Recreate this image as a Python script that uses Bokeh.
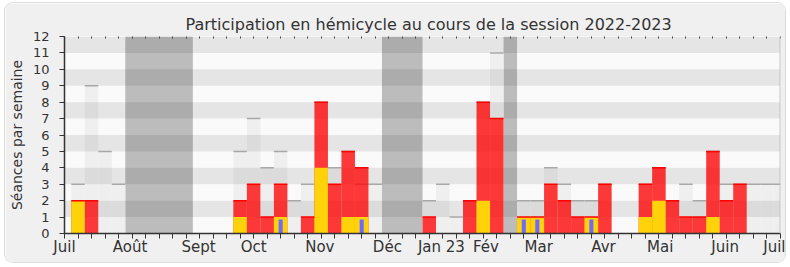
from bokeh.plotting import figure
from bokeh.models import Range1d, FixedTicker, LinearAxis, Span
from bokeh.embed import file_html
from bokeh.resources import INLINE

# ---- data (week index from start of session) ----
total_weeks = [1, 2, 3, 4, 13, 14, 15, 16, 17, 18, 19, 20, 21, 22, 23, 27, 28, 29, 30, 31, 32,
               34, 35, 36, 37, 38, 39, 40, 43, 44, 45, 46, 47, 48, 49, 50, 51, 52, 53]
total_vals = [3, 9, 5, 3, 5, 7, 4, 5, 2, 3, 8, 4, 5, 3, 3, 2, 3, 1, 2, 8, 11,
              2, 2, 4, 3, 2, 2, 3, 3, 4, 2, 3, 2, 5, 3, 3, 3, 3, 3]

presence_weeks = [1, 2, 13, 14, 15, 16, 18, 19, 20, 21, 22, 27, 30, 31, 32, 34, 35, 36, 37, 38,
                  39, 40, 43, 44, 45, 46, 47, 48, 49, 50]
presence_vals = [2, 2, 2, 3, 1, 3, 1, 8, 3, 5, 4, 1, 2, 8, 7, 1, 1, 3, 2, 1,
                 1, 3, 3, 4, 2, 1, 1, 5, 2, 3]

interv_weeks = [1, 13, 16, 19, 21, 22, 31, 34, 35, 39, 43, 44, 48]
interv_vals = [2, 1, 1, 4, 1, 1, 2, 1, 1, 1, 1, 2, 1]

question_weeks = [16, 22, 34, 35, 39]
question_vals = [0.85, 0.85, 0.85, 0.85, 0.85]

vacation_start = [4.5, 23.5, 32.5]
vacation_end = [9.5, 26.5, 33.5]

month_pos = [0, 4.85, 9.92, 14.0, 18.9, 23.9, 27.9, 31.2, 35.1, 39.9, 44.1, 48.9, 53]
month_labels = ["Juil", "Août", "Sept", "Oct", "Nov", "Déc", "Jan 23", "Fév", "Mar", "Avr",
                "Mai", "Juin", "Juil"]
n_weeks = 53
y_max = 12

FONT = "DejaVu Sans"
TXT = "#333333"

p = figure(width=780, height=259, x_range=Range1d(0, n_weeks), y_range=Range1d(0, y_max),
           output_backend="svg", toolbar_location=None,
           min_border_left=57, min_border_right=5, min_border_top=33, min_border_bottom=29,
           border_fill_color="#f0f0f0", background_fill_color="white",
           outline_line_color=None, x_axis_location=None, y_axis_location=None)
p.styles = {"margin-left": "5px", "margin-top": "3px", "border-radius": "8px",
            "box-shadow": "0 0 0 1px #dcdcdc", "overflow": "hidden"}
p.grid.visible = False

p.title.text = "Participation en hémicycle au cours de la session 2022-2023"
p.title.align = "left"
p.title.offset = 121
p.title.standoff = 6
p.title.text_line_height = 0.8
p.title.text_font = FONT
p.title.text_font_size = "16px"
p.title.text_font_style = "normal"
p.title.text_color = TXT

# vacation bands (under stripes)
p.quad(left=vacation_start, right=vacation_end, bottom=0, top=y_max,
       fill_color="#c0c0c0", line_color=None)

# total sessions bars (light)
p.vbar(x=total_weeks, top=total_vals, width=1, bottom=0,
       fill_color="#f4f4f4", line_color=None)

# horizontal stripes
rows = list(range(y_max))
p.hbar(y=[r + 0.5 for r in rows], left=0, right=n_weeks, height=1,
       fill_color="black", fill_alpha=[0.1 if r % 2 == 1 else 0.02 for r in rows],
       line_color=None)

# total top lines
p.segment(x0=[w - 0.5 for w in total_weeks], x1=[w + 0.5 for w in total_weeks],
          y0=total_vals, y1=total_vals, line_color="#a8a8a8", line_width=1.5)

# presence bars
p.vbar(x=presence_weeks, top=presence_vals, width=1, bottom=0,
       fill_color="#ff0000", fill_alpha=0.77, line_color=None)
# interventions
p.vbar(x=interv_weeks, top=interv_vals, width=1, bottom=0,
       fill_color="#ffd20a", line_color=None)
# presence top lines
p.segment(x0=[w - 0.5 for w in presence_weeks], x1=[w + 0.5 for w in presence_weeks],
          y0=presence_vals, y1=presence_vals, line_color="#ff0000", line_width=1.5)
# questions
p.vbar(x=question_weeks, top=question_vals, width=0.3, bottom=0,
       fill_color="#6b6bff", line_color=None)

# right border line
p.add_layout(Span(location=n_weeks, dimension="height", line_color="#c4c4c4", line_width=2))

# axes
xaxis = LinearAxis(ticker=FixedTicker(ticks=month_pos, minor_ticks=list(range(0, n_weeks + 1))))
xaxis.major_label_overrides = {pos: lab for pos, lab in zip(month_pos, month_labels)}
xaxis.major_tick_out = 0
xaxis.major_tick_in = 0
xaxis.minor_tick_out = 5
xaxis.minor_tick_in = 0
xaxis.minor_tick_line_color = TXT
xaxis.axis_line_color = TXT
xaxis.axis_line_width = 1.5
xaxis.major_label_text_font = FONT
xaxis.major_label_text_font_size = "15px"
xaxis.major_label_text_color = TXT
xaxis.major_label_standoff = -1
p.add_layout(xaxis, "below")

topaxis = LinearAxis(ticker=FixedTicker(ticks=[], minor_ticks=list(range(0, n_weeks + 1))))
topaxis.axis_line_color = None
topaxis.major_tick_out = 0
topaxis.major_tick_in = 0
topaxis.minor_tick_in = 2
topaxis.minor_tick_out = 0
topaxis.minor_tick_line_color = "#444444"
topaxis.minor_tick_line_width = 1
topaxis.major_label_text_font_size = "0px"
topaxis.major_label_standoff = 0
p.add_layout(topaxis, "above")

yaxis = LinearAxis(ticker=FixedTicker(ticks=list(range(0, y_max + 1)), minor_ticks=[]))
yaxis.axis_label = "Séances par semaine"
yaxis.axis_label_text_font = FONT
yaxis.axis_label_text_font_size = "14px"
yaxis.axis_label_text_font_style = "normal"
yaxis.axis_label_text_color = TXT
yaxis.axis_label_standoff = 5
yaxis.major_tick_out = 5
yaxis.major_tick_in = 0
yaxis.major_tick_line_color = TXT
yaxis.axis_line_color = TXT
yaxis.axis_line_width = 1.5
yaxis.major_label_text_font = FONT
yaxis.major_label_text_font_size = "13px"
yaxis.major_label_text_color = TXT
yaxis.major_label_standoff = 10
p.add_layout(yaxis, "left")

open("out.html", "w").write(file_html(p, INLINE))
